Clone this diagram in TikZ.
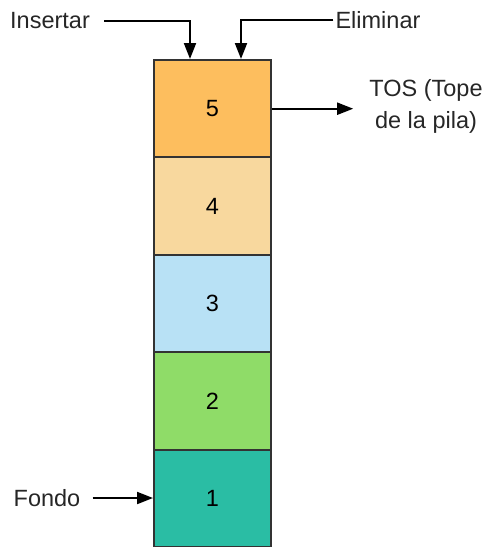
\documentclass[tikz,border=0pt]{standalone}
\usepackage{fontspec}
\setmainfont{Liberation Sans}
\usetikzlibrary{arrows.meta}
\definecolor{c5}{HTML}{FDBE5E}
\definecolor{c4}{HTML}{F8D89E}
\definecolor{c3}{HTML}{B8E1F5}
\definecolor{c2}{HTML}{8FDC68}
\definecolor{c1}{HTML}{2ABDA4}
\definecolor{edge}{HTML}{333333}
\begin{document}
\begin{tikzpicture}[x=1pt,y=-1pt,
  cell/.style={draw=edge,line width=2pt,minimum width=117pt,minimum height=97.4pt,inner sep=0pt,
    outer sep=0pt,font=\fontsize{23.5}{28}\selectfont},
  lbl/.style={inner sep=0pt,font=\fontsize{23.5}{32}\selectfont,text=black!85},
  arr/.style={line width=2pt,-{Triangle[length=16pt,width=12pt]}}]
\useasboundingbox (0,0) rectangle (492,547);
% the stack, from top to bottom
\node[cell,fill=c5] (b5) at (212.5,108.7) {5};
\node[cell,fill=c4,anchor=north] (b4) at (b5.south) {4};
\node[cell,fill=c3,anchor=north] (b3) at (b4.south) {3};
\node[cell,fill=c2,anchor=north] (b2) at (b3.south) {2};
\node[cell,fill=c1,anchor=north] (b1) at (b2.south) {1};
% labels
\node[lbl] (ins) at (50,21) {Insertar};
\node[lbl] (eli) at (378,20) {Eliminar};
\node[lbl,align=center] (tos) at (426,106) {TOS (Tope\\de la pila)};
\node[lbl] (fon) at (47,498) {Fondo};
% connectors
\coordinate (insin) at ([xshift=-22.5pt,yshift=1pt]b5.north);
\coordinate (eliin) at ([xshift=28.5pt,yshift=1pt]b5.north);
\draw[arr] ([xshift=14pt]ins.east) -| (insin);
\draw[arr] ([xshift=-2pt]eli.west) -| (eliin);
\draw[arr] ([xshift=1pt]b5.east) -- ([xshift=-16pt]tos.west |- b5.east);
\draw[arr] ([xshift=12pt]fon.east) -- ([xshift=-1pt]b1.west |- fon.east);
\end{tikzpicture}
\end{document}
